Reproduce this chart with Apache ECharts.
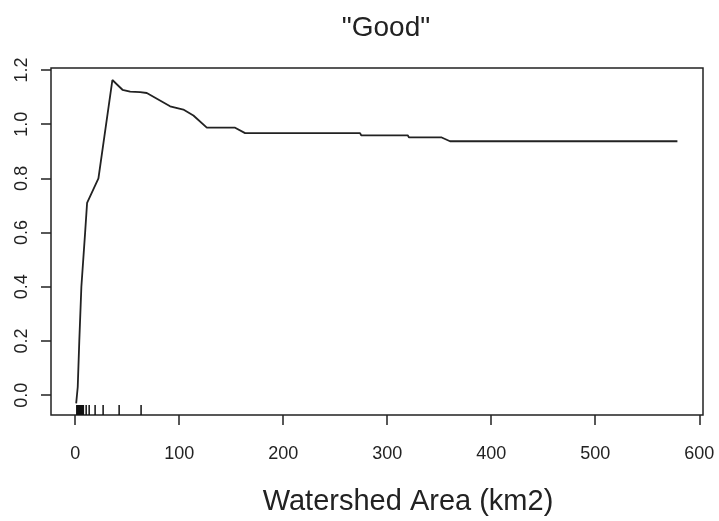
<!DOCTYPE html>
<html>
<head>
<meta charset="utf-8">
<script src="https://cdn.jsdelivr.net/npm/echarts@6/dist/echarts.min.js"></script>
<style>
html,body{margin:0;padding:0;background:#fff;}
#chart{width:719px;height:521px;}
</style>
</head>
<body>
<div id="chart"></div>
<script>
// Data
var chartTitle = '"Good"';
var xAxisTitle = 'Watershed Area (km2)';
var xTicks = [0, 100, 200, 300, 400, 500, 600];
var yTicks = [0.0, 0.2, 0.4, 0.6, 0.8, 1.0, 1.2];
var curveX = [1, 2.5, 4, 6, 9.6, 11.5, 22.4, 35.8, 45.5, 52.9, 62.5, 68.9, 91.3, 104, 113.7, 126.6, 153.8, 163.4, 273.9, 275, 319.7, 321, 352.4, 360.4, 579];
var curveY = [-0.03, 0.03, 0.2, 0.4, 0.6, 0.71, 0.8, 1.163, 1.127, 1.12, 1.118, 1.115, 1.066, 1.054, 1.032, 0.987, 0.987, 0.967, 0.967, 0.959, 0.959, 0.951, 0.951, 0.937, 0.937];
var rugX = [1.6, 2.5, 3.4, 4.3, 5.2, 6.1, 7.0, 7.9, 10.6, 13.5, 19.2, 26.9, 42.3, 63.4];

var X_MIN = -23.2, X_MAX = 603.6, Y_MIN = -0.0732, Y_MAX = 1.2073;
var FONT = '"Liberation Sans", Arial, sans-serif';
var INK = '#222';

var curveData = curveX.map(function (x, i) { return [x, curveY[i]]; });
var rugData = rugX.map(function (x) { return [x, Y_MIN]; });

var chart = echarts.init(document.getElementById('chart'), null, {renderer: 'canvas'});
chart.setOption({
  backgroundColor: '#ffffff',
  animation: false,
  title: {
    text: chartTitle,
    left: 381,
    top: 9,
    textAlign: 'center',
    textStyle: {fontFamily: FONT, fontSize: 28, fontWeight: 'normal', color: INK}
  },
  grid: {
    left: 51, right: 16, top: 68, bottom: 103,
    show: true, borderColor: INK, borderWidth: 1.5, backgroundColor: 'transparent'
  },
  xAxis: {
    type: 'value',
    min: X_MIN, max: X_MAX,
    name: xAxisTitle,
    nameLocation: 'middle',
    nameGap: 72,
    nameTextStyle: {fontFamily: FONT, fontSize: 29, color: INK, padding: [0, 0, 0, 62]},
    axisLine: {show: false, onZero: false},
    axisTick: {show: true, inside: false, length: 10, customValues: xTicks, lineStyle: {color: INK, width: 1.5}},
    axisLabel: {customValues: xTicks, fontFamily: FONT, fontSize: 18, color: INK, margin: 30},
    splitLine: {show: false}
  },
  yAxis: {
    type: 'value',
    min: Y_MIN, max: Y_MAX,
    axisLine: {show: false, onZero: false},
    axisTick: {show: true, inside: false, length: 10, customValues: yTicks, lineStyle: {color: INK, width: 1.5}},
    axisLabel: {
      customValues: yTicks, rotate: 90, fontFamily: FONT, fontSize: 18, color: INK, margin: 20,
      formatter: function (v) { return v.toFixed(1); }
    },
    splitLine: {show: false}
  },
  series: [
    {
      type: 'line',
      data: curveData,
      showSymbol: false,
      lineStyle: {color: '#222', width: 1.8},
      z: 3
    },
    {
      type: 'custom',
      data: rugData,
      renderItem: function (params, api) {
        var p = api.coord([api.value(0), api.value(1)]);
        return {
          type: 'line',
          shape: {x1: p[0], y1: p[1], x2: p[0], y2: p[1] - 10},
          style: {stroke: '#111', lineWidth: 1.5}
        };
      },
      z: 4
    }
  ]
});
</script>
</body>
</html>
